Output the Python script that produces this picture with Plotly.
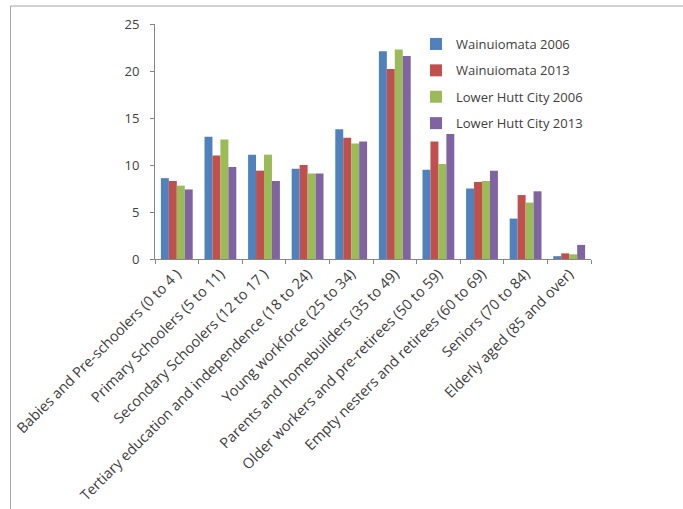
import plotly.graph_objects as go

categories = [
    "Babies and Pre-schoolers (0 to 4 )",
    "Primary Schoolers (5 to 11)",
    "Secondary Schoolers (12 to 17 )",
    "Tertiary education and independence (18 to 24)",
    "Young workforce (25 to 34)",
    "Parents and homebuilders (35 to 49)",
    "Older workers and pre-retirees (50 to 59)",
    "Empty nesters and retirees (60 to 69)",
    "Seniors (70 to 84)",
    "Elderly aged (85 and over)",
]
wainuiomata_2006 = [8.6, 13.0, 11.1, 9.6, 13.8, 22.1, 9.5, 7.5, 4.3, 0.3]
wainuiomata_2013 = [8.3, 11.0, 9.4, 10.0, 12.9, 20.2, 12.5, 8.2, 6.8, 0.6]
lower_hutt_2006 = [7.8, 12.7, 11.1, 9.1, 12.3, 22.3, 10.1, 8.3, 6.0, 0.5]
lower_hutt_2013 = [7.4, 9.8, 8.3, 9.1, 12.5, 21.6, 13.3, 9.4, 7.2, 1.5]

series = [
    ("Wainuiomata 2006", wainuiomata_2006, "#4F81BD"),
    ("Wainuiomata 2013", wainuiomata_2013, "#C0504D"),
    ("Lower Hutt City 2006", lower_hutt_2006, "#9BBB59"),
    ("Lower Hutt City 2013", lower_hutt_2013, "#8064A2"),
]

FONT = "'Open Sans', sans-serif"
TEXT = "#404040"

fig = go.Figure()
for i, (name, vals, col) in enumerate(series):
    fig.add_trace(go.Bar(
        x=categories, y=vals, name=name,
        marker=dict(color=col, line=dict(width=0)),
        legendgroup=f"g{i}",
    ))

W, H = 683, 509
L, R, T, B = 155, 92, 24, 250
pw = W - L - R
ph = H - T - B

def px_x(p):
    return (p - L) / pw

def px_y(p):
    return (H - B - p) / ph

frame = "#A6A6A6"
shapes = [
    dict(type="line", xref="paper", yref="paper",
         x0=px_x(10.5), x1=px_x(683), y0=px_y(6), y1=px_y(6),
         line=dict(color=frame, width=1)),
    dict(type="line", xref="paper", yref="paper",
         x0=px_x(10.5), x1=px_x(10.5), y0=px_y(6), y1=px_y(509),
         line=dict(color=frame, width=1)),
]

fig.update_layout(
    width=W, height=H,
    margin=dict(l=L, r=R, t=T, b=B, autoexpand=False),
    paper_bgcolor="white", plot_bgcolor="white",
    barmode="group", bargap=0.27, bargroupgap=0,
    font=dict(family=FONT, size=12, color=TEXT),
    showlegend=True,
    legend=dict(
        x=px_x(416), y=px_y(29), xanchor="left", yanchor="top",
        font=dict(family=FONT, size=13, color=TEXT),
        tracegroupgap=6.5, itemwidth=30, bgcolor="rgba(0,0,0,0)",
    ),
    shapes=shapes,
    xaxis=dict(
        automargin=False,
        showline=True, linecolor="#868686", linewidth=1,
        ticks="outside", ticklen=4, tickcolor="#868686",
        tickson="boundaries", tickangle=-45,
        tickfont=dict(family=FONT, size=14.5, color=TEXT),
        showgrid=False, zeroline=False,
    ),
    yaxis=dict(
        automargin=False,
        range=[0, 25], dtick=5, tick0=0,
        showline=True, linecolor="#868686", linewidth=1,
        ticks="outside", ticklen=4, tickcolor="#868686",
        tickfont=dict(family=FONT, size=13, color=TEXT),
        showgrid=False, zeroline=False, ticklabelstandoff=8,
    ),
)

fig.write_html("out.html")
